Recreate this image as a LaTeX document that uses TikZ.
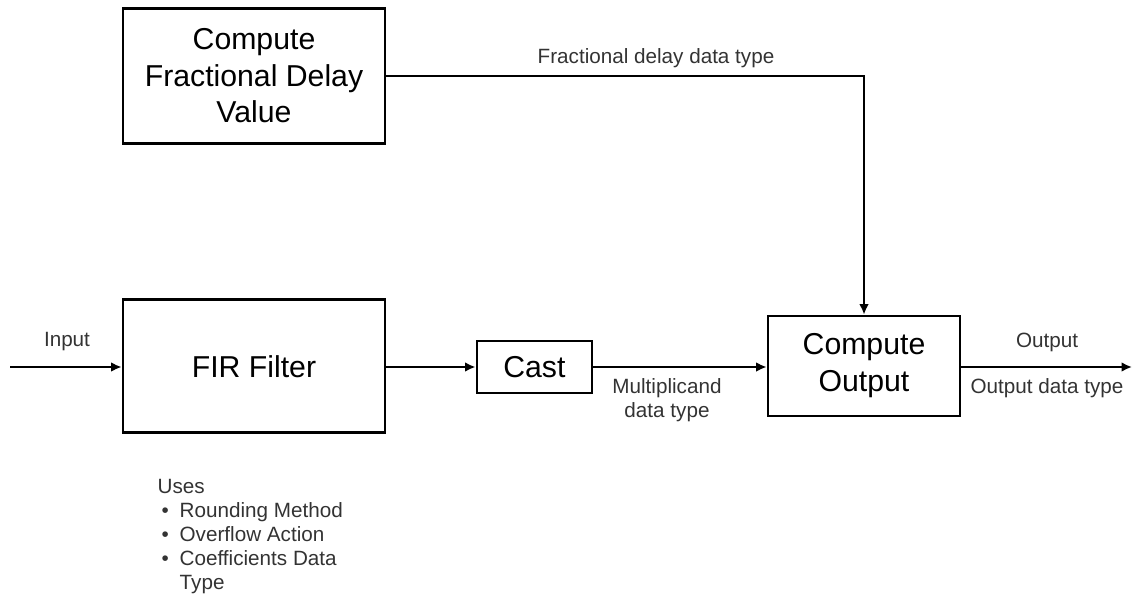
\documentclass[tikz,border=0pt]{standalone}
\usepackage{fontspec}
\setmainfont{Liberation Sans}
\usetikzlibrary{arrows.meta, positioning}
\definecolor{LabelGray}{HTML}{333333}
\tikzset{
  blockbox/.style={draw=black, line width=2pt, fill=white, align=center, inner sep=4pt, font=\fontsize{21.5}{26.3}\selectfont},
  sigarrow/.style={-{Latex[length=2.6mm, width=2.4mm]}, line width=1.4pt, draw=black},
  siglabel/.style={align=center, text=LabelGray, inner sep=1pt, font=\fontsize{14.7}{17}\selectfont}
}
\begin{document}
\begin{tikzpicture}
\useasboundingbox (0,0) rectangle (28.3,-14.875);
\node[blockbox, minimum width=6.55cm, minimum height=3.375cm] (compfrac) at (6.35,-1.89) {Compute\\Fractional Delay\\Value};
\node[blockbox, minimum width=6.55cm, minimum height=3.325cm] (firfilter) at (6.35,-9.16) {FIR Filter};
\node[blockbox, minimum width=2.875cm, minimum height=1.3cm] (cast) at (13.36,-9.175) {Cast};
\node[blockbox, minimum width=4.8cm, minimum height=2.5cm] (compout) at (21.6,-9.15) {Compute\\Output};
\coordinate (sigin) at (0.25,-9.175);
\coordinate (sigout) at (28.3,-9.175);
\coordinate (corner) at (compout.north |- compfrac.east);
\draw[sigarrow] (sigin) -- (sigin -| firfilter.west);
\draw[sigarrow] (firfilter.east |- cast.west) -- (cast.west);
\draw[sigarrow] (cast.east) -- (cast.east -| compout.west);
\draw[sigarrow] (compfrac.east) -- (corner) -- (compout.north);
\draw[sigarrow] (compout.east |- sigout) -- (sigout);
% signal labels
\node[siglabel] (inlabel) at (1.675,-8.55) {Input};
\node[siglabel] (fraclabel) at (16.4,-1.45) {Fractional delay data type};
\node[siglabel] (multlabel) at (16.675,-10.0) {Multiplicand\\data type};
\node[siglabel] (outlabel) at (26.175,-8.55) {Output};
\node[siglabel] (outtype) at (26.175,-9.7) {Output data type};
\node[siglabel, align=left, anchor=north west] (useslist) at (3.9,-11.95) {Uses\\
  \makebox[0.55cm][l]{\hspace{0.1cm}\textbullet}Rounding Method\\
  \makebox[0.55cm][l]{\hspace{0.1cm}\textbullet}Overflow Action\\
  \makebox[0.55cm][l]{\hspace{0.1cm}\textbullet}Coefficients Data\\
  \hspace{0.55cm}Type};
\end{tikzpicture}
\end{document}
